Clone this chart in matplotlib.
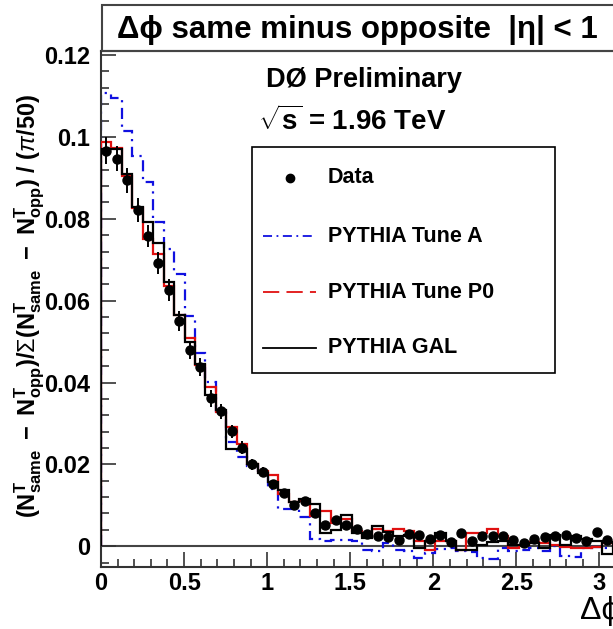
import numpy as np
import matplotlib
matplotlib.use('Agg')
import matplotlib.pyplot as plt
from matplotlib.patches import Rectangle
from matplotlib.lines import Line2D

plt.rcParams['font.family'] = ['Liberation Sans', 'DejaVu Sans']
plt.rcParams['mathtext.fontset'] = 'custom'
plt.rcParams['mathtext.rm'] = 'Liberation Sans'
plt.rcParams['mathtext.bf'] = 'Liberation Sans:bold'
plt.rcParams['mathtext.it'] = 'Liberation Sans:italic'

# bin contents, 50 bins of pi/50 from 0 to pi
data = [0.0966, 0.0947, 0.0894, 0.0821, 0.0758, 0.0692, 0.0626, 0.0551, 0.0479, 0.0438,
        0.0361, 0.0330, 0.0281, 0.0241, 0.0200, 0.0182, 0.0151, 0.0130, 0.0100, 0.0110,
        0.0081, 0.0051, 0.0065, 0.0053, 0.0041, 0.0031, 0.0026, 0.0022, 0.0016, 0.0031,
        0.0028, 0.0018, 0.0028, 0.0010, 0.0033, 0.0012, 0.0026, 0.0024, 0.0024, 0.0016,
        0.0008, 0.0018, 0.0023, 0.0026, 0.0028, 0.0020, 0.0014, 0.0034, 0.0016, 0.0020]
data_err = [0.0033, 0.0031, 0.0030, 0.0030, 0.0028, 0.0027, 0.0026, 0.0024, 0.0022, 0.0021,
            0.0020, 0.0018, 0.0016, 0.0015, 0.0013, 0.0012, 0.0011, 0.0010, 0.0010, 0.0010,
            0.0009, 0.0009, 0.0009, 0.0009, 0.0009, 0.0008, 0.0008, 0.0008, 0.0008, 0.0008,
            0.0008, 0.0008, 0.0008, 0.0008, 0.0008, 0.0008, 0.0008, 0.0008, 0.0008, 0.0008,
            0.0008, 0.0008, 0.0008, 0.0008, 0.0008, 0.0008, 0.0008, 0.0008, 0.0008, 0.0008]
tune_a = [0.1108, 0.1094, 0.1014, 0.0954, 0.0889, 0.0793, 0.0727, 0.0666, 0.0562, 0.0472,
          0.0402, 0.0331, 0.0255, 0.0218, 0.0197, 0.0179, 0.0141, 0.0092, 0.0090, 0.0072,
          0.0018, 0.0012, 0.0016, 0.0016, 0.0012, -0.0008, -0.0012, 0.0007, -0.0008, -0.0012,
          -0.0028, -0.0016, -0.0007, -0.0004, -0.0012, -0.0015, -0.0028, -0.0031, -0.0004, -0.0012,
          -0.0010, -0.0004, -0.0012, 0.0000, -0.0023, -0.0026, -0.0004, -0.0002, -0.0004, -0.0004]
tune_p0 = [0.0987, 0.0974, 0.0905, 0.0826, 0.0750, 0.0713, 0.0637, 0.0566, 0.0508, 0.0443,
           0.0389, 0.0328, 0.0292, 0.0249, 0.0202, 0.0184, 0.0174, 0.0127, 0.0108, 0.0110,
           0.0073, 0.0085, 0.0057, 0.0067, 0.0037, 0.0024, 0.0041, 0.0037, 0.0042, 0.0037,
           0.0012, -0.0010, 0.0012, 0.0012, -0.0008, 0.0033, 0.0033, 0.0041, 0.0024, -0.0004,
           0.0004, 0.0010, 0.0008, 0.0004, -0.0002, -0.0004, -0.0004, -0.0002, 0.0007, 0.0005]
tune_gal = [0.0970, 0.0970, 0.0909, 0.0829, 0.0792, 0.0740, 0.0646, 0.0564, 0.0499, 0.0445,
            0.0369, 0.0334, 0.0237, 0.0238, 0.0200, 0.0180, 0.0157, 0.0137, 0.0108, 0.0115,
            0.0102, 0.0033, 0.0039, 0.0077, 0.0033, 0.0020, 0.0050, 0.0034, 0.0024, 0.0028,
            -0.0004, 0.0012, 0.0033, 0.0012, -0.0008, -0.0008, 0.0004, 0.0010, 0.0012, 0.0004,
            0.0004, 0.0008, -0.0004, 0.0028, 0.0004, 0.0026, 0.0018, 0.0014, -0.0018, 0.0010]

edges = np.linspace(0, np.pi, len(data) + 1)
centers = 0.5 * (edges[:-1] + edges[1:])

W, H = 613, 629
fig = plt.figure(figsize=(W / 100, H / 100), dpi=100)
ax = fig.add_axes([101 / W, 62.3 / H, 522 / W, 515.7 / H])

dash_a = (0, (5, 2.5, 1, 2.5))
dash_p0 = (0, (9, 4))

ax.axhline(0, color='#444444', lw=1.5, zorder=1)
ax.stairs(tune_a, edges, color='#1010e0', lw=1.6, linestyle=dash_a, zorder=2)
ax.stairs(tune_p0, edges, color='#e01010', lw=1.6, zorder=3)
ax.stairs(tune_gal, edges, color='black', lw=1.6, zorder=4)
ax.errorbar(centers, data, yerr=data_err, fmt='o', color='black', ms=6.5,
            elinewidth=1.4, capsize=0, zorder=5)

ax.set_xlim(0, np.pi)
ax.set_ylim(-0.005, 0.121)
ax.set_xticks([0, 0.5, 1, 1.5, 2, 2.5, 3])
ax.set_xticklabels(['0', '0.5', '1', '1.5', '2', '2.5', '3'])
ax.set_xticks(np.arange(0, 3.15, 0.1), minor=True)
ax.set_yticks([0, 0.02, 0.04, 0.06, 0.08, 0.1, 0.12])
ax.set_yticklabels(['0', '0.02', '0.04', '0.06', '0.08', '0.1', '0.12'])
ax.set_yticks(np.arange(-0.004, 0.1205, 0.004), minor=True)
ax.tick_params(which='both', direction='in', color='#333333', width=1.2,
               labelsize=17, top=False, right=False)
ax.tick_params(which='major', length=11)
ax.tick_params(which='minor', length=5.5)
ax.tick_params(axis='x', pad=4)
ax.tick_params(axis='y', pad=8)
for lab in ax.get_xticklabels() + ax.get_yticklabels():
    lab.set_fontweight('bold')
for sp in ax.spines.values():
    sp.set_color('#333333')
    sp.set_linewidth(1.5)

# title box
fig.patches.append(Rectangle((102 / W, 1 - 51 / H), 0.9, 46 / H, transform=fig.transFigure,
                             fill=False, edgecolor='#444444', lw=1.5))
fig.text(117 / W, 1 - 30 / H, 'Δϕ same minus opposite  |η| < 1',
         fontsize=22.5, fontweight='bold', va='center', ha='left')

fig.text(266 / W, 1 - 80 / H, 'DØ Preliminary', fontsize=19.5, fontweight='bold',
         va='center', ha='left')
fig.text(258 / W, 1 - 121 / H, r'$\sqrt{\mathbf{s}}$ = 1.96 TeV', fontsize=20,
         fontweight='bold', va='center', ha='left')

# legend box
fig.patches.append(Rectangle((252 / W, 1 - 373 / H), 303 / W, 226 / H, transform=fig.transFigure,
                             fill=False, edgecolor='black', lw=1.2))
entries = [('Data', None), ('PYTHIA Tune A', ('#1010e0', dash_a)),
           ('PYTHIA Tune P0', ('#e01010', dash_p0)), ('PYTHIA GAL', ('black', '-'))]
ys = [178, 236, 292, 348]
for (label, sty), py in zip(entries, ys):
    fy = 1 - py / H
    if sty is None:
        fig.lines.append(Line2D([290 / W], [fy], marker='o', ms=6, color='black',
                                transform=fig.transFigure))
    else:
        fig.lines.append(Line2D([263 / W, 316 / W], [fy, fy], color=sty[0], lw=1.3,
                                linestyle=sty[1], transform=fig.transFigure))
    fig.text(328 / W, fy, label, fontsize=15.5, fontweight='bold', va='center', ha='left')

ylabel = (r'$\mathbf{(N^{T}_{same}\ -\ N^{T}_{opp})/}\Sigma\mathbf{(N^{T}_{same}\ -\ N^{T}_{opp})\ /\ (}'
          r'\pi\mathbf{/50)}$')
fig.text(30 / W, 1 - 306 / H, ylabel, rotation=90, fontsize=17, va='center', ha='center')

fig.text(580 / W, 1 - 611 / H, 'Δϕ', fontsize=23, va='center', ha='left')

fig.savefig('out.png', dpi=100)
